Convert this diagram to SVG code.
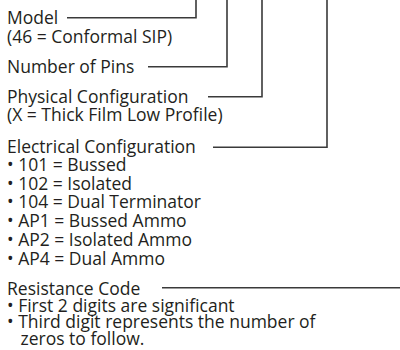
<svg xmlns="http://www.w3.org/2000/svg" width="400" height="350" viewBox="0 0 400 350">
<style>
text{font-family:"Open Sans","Liberation Sans",sans-serif;font-size:17.5px;fill:#231f20}
.c{fill:none;stroke:#3a3a3a;stroke-width:1.6}
</style>
<rect width="400" height="350" fill="#fff"/>
<g id="connectors">
<polyline class="c" points="67,17.7 196,17.7 196,0"/>
<polyline class="c" points="148,66.7 227,66.7 227,0"/>
<polyline class="c" points="208,96.7 262,96.7 262,0"/>
<polyline class="c" points="213,147.3 327,147.3 327,0"/>
<line class="c" x1="162" y1="287.7" x2="400" y2="287.7"/>
</g>
<g id="model">
<text x="7" y="24">Model</text>
<text x="7" y="42.5">(46 = Conformal SIP)</text>
</g>
<g id="pins">
<text x="7" y="72.7">Number of Pins</text>
</g>
<g id="physical">
<text x="7" y="103">Physical Configuration</text>
<text x="7" y="121">(X = Thick Film Low Profile)</text>
</g>
<g id="electrical">
<text x="7" y="152.5">Electrical Configuration</text>
<text x="7" y="171">• 101 = Bussed</text>
<text x="7" y="189.5">• 102 = Isolated</text>
<text x="7" y="208">• 104 = Dual Terminator</text>
<text x="7" y="227">• AP1 = Bussed Ammo</text>
<text x="7" y="246">• AP2 = Isolated Ammo</text>
<text x="7" y="265">• AP4 = Dual Ammo</text>
</g>
<g id="resistance">
<text x="7" y="295">Resistance Code</text>
<text x="7" y="311.7">• First 2 digits are significant</text>
<text x="7" y="328.3">• Third digit represents the number of</text>
<text x="20.5" y="345">zeros to follow.</text>
</g>
</svg>
